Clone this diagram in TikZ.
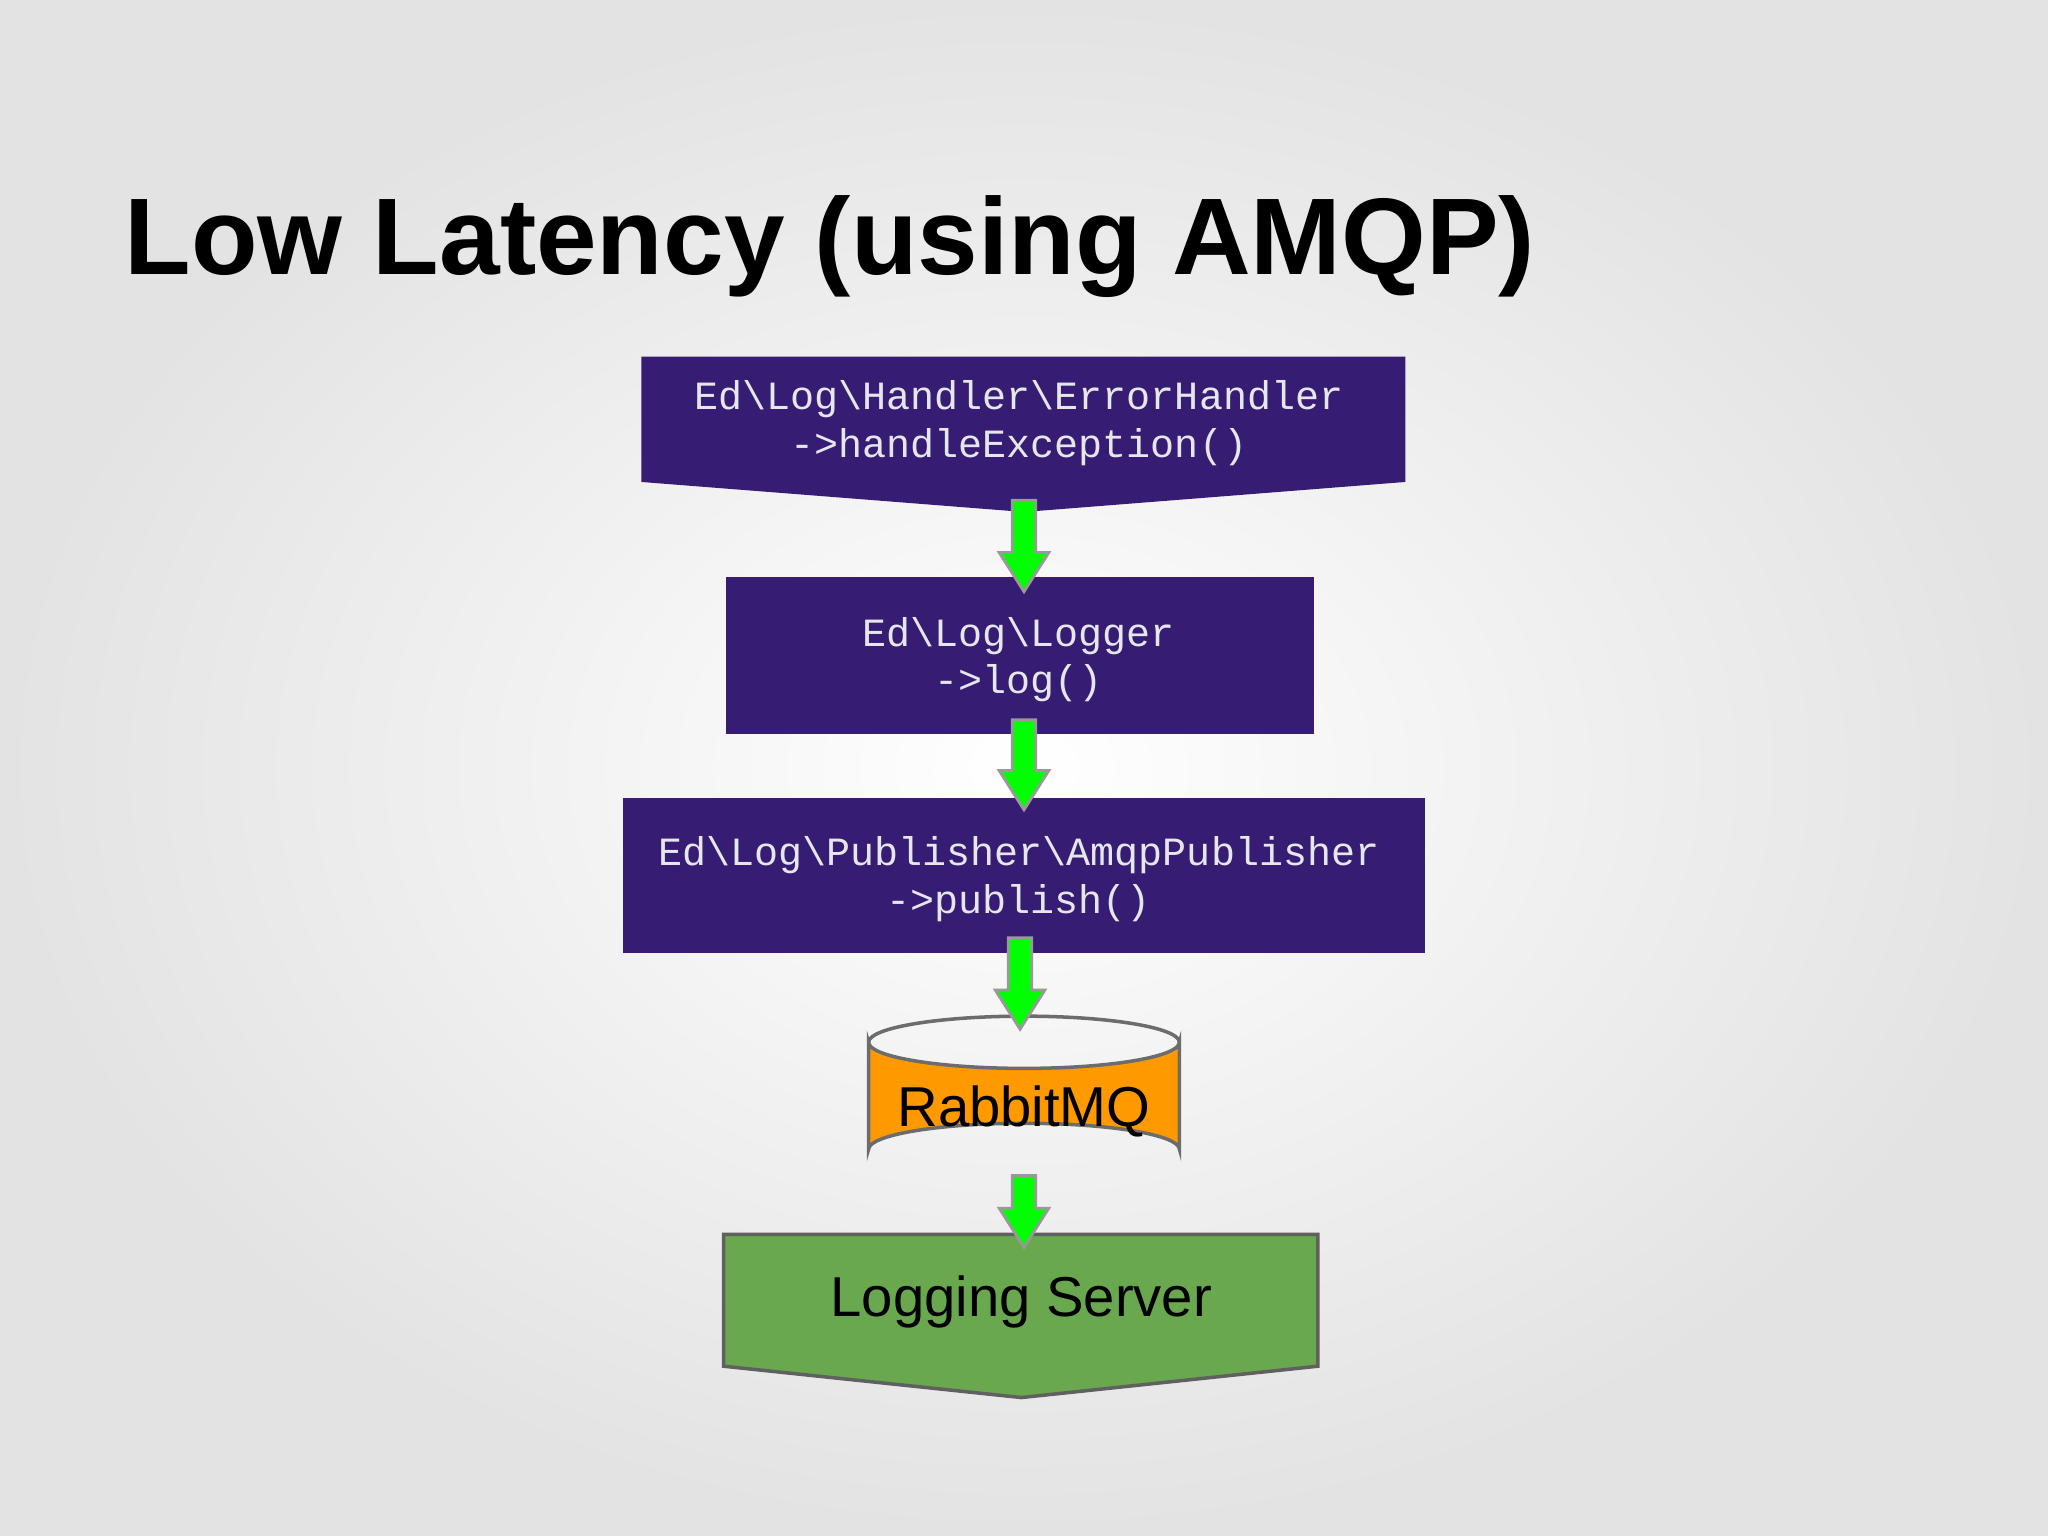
\documentclass[tikz,border=0pt]{standalone}
\usepackage{fontspec}
\setmainfont{Liberation Sans}
\newfontfamily\monof{Liberation Mono}
\usetikzlibrary{shapes.geometric}
\definecolor{boxpurple}{HTML}{361C73}
\definecolor{monotxt}{HTML}{E6E6EE}
\definecolor{rabbit}{HTML}{FF9900}
\definecolor{logsrv}{HTML}{6AA84F}
\definecolor{arrowgreen}{HTML}{00FF00}
\tikzset{
  pbox/.style={fill=boxpurple,draw=none},
  mono/.style={text=monotxt,font=\monof\fontsize{11.4pt}{13.6pt}\selectfont,align=center},
  garrow/.style={fill=arrowgreen,draw=gray!80,line width=0.8pt,line join=miter},
  pics/blockarrow/.style args={#1}{code={
    \draw[garrow] (-9,0) -- (9,0) -- (9,#1-30) -- (19,#1-30) -- (0,#1) -- (-19,#1-30) -- (-9,#1-30) -- cycle;}}
}
\begin{document}
\begin{tikzpicture}[x=0.013061cm,y=-0.013061cm]
\useasboundingbox (0,0) rectangle (1568,1176);
\shade[inner color=white,outer color=gray!22] (0,0) rectangle (1568,1176);
\node[anchor=base west,inner sep=0,font=\bfseries\fontsize{31pt}{36pt}\selectfont] (title) at (95,210) {Low Latency (using AMQP)};
% box 1
\fill[pbox] (491,273) -- (1076,273) -- (1076,369) -- (784,392) -- (491,369) -- cycle;
\node[mono] (b1) at (780,324) {Ed\textbackslash Log\textbackslash Handler\textbackslash ErrorHandler\\->handleException()};
% box 2
\fill[pbox] (556,442) rectangle (1006,562);
\node[mono] (b2) at (780,505) {Ed\textbackslash Log\textbackslash Logger\\->log()};
% box 3
\fill[pbox] (477,611) rectangle (1091,730);
\node[mono] (b3) at (780,673) {Ed\textbackslash Log\textbackslash Publisher\textbackslash AmqpPublisher\\->publish()};
% cylinder
\draw[fill=rabbit,draw=gray!85!black,line width=1pt] (665,798) -- (665,880) arc[start angle=180,end angle=360,x radius=119,y radius=20] -- (903,798) arc[start angle=0,end angle=180,x radius=119,y radius=20] -- cycle;
\draw[gray!85!black,line width=1pt] (665,798) arc[start angle=180,end angle=360,x radius=119,y radius=20];
\node[font=\fontsize{16pt}{19pt}\selectfont] (rmq) at (784,851) {RabbitMQ};
% logging server
\draw[fill=logsrv,draw=gray!75!black,line width=1pt] (554,945) -- (1009,945) -- (1009,1046) -- (782,1070) -- (554,1046) -- cycle;
\node[font=\fontsize{16pt}{19pt}\selectfont] (ls) at (782,997) {Logging Server};
% arrows
\pic at (784,383) {blockarrow={70}};
\pic at (784,551) {blockarrow={69}};
\pic at (781,718) {blockarrow={70}};
\pic at (784,900) {blockarrow={55}};
\end{tikzpicture}
\end{document}
